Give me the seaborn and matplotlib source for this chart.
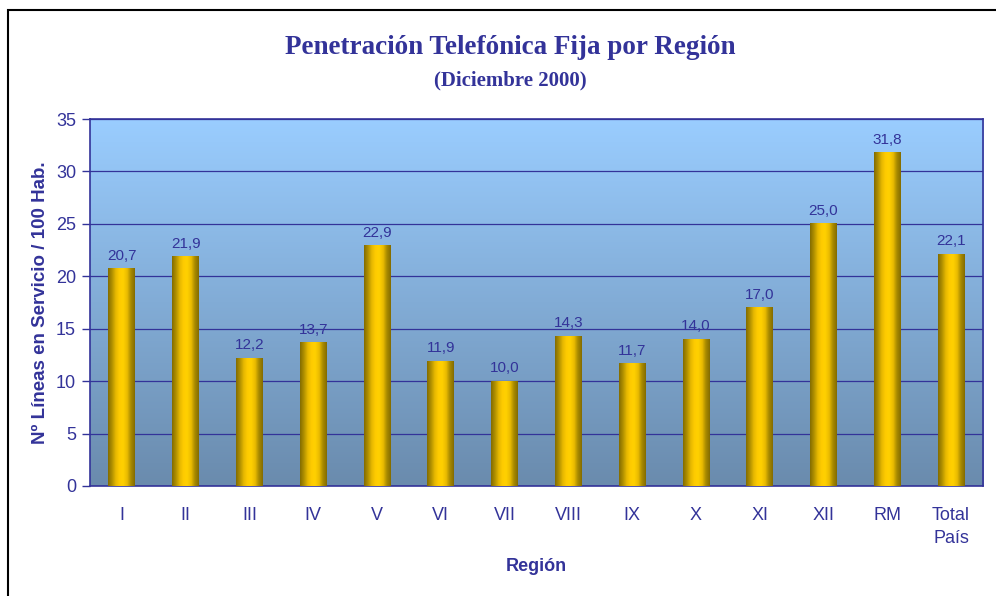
import numpy as np
import pandas as pd
import matplotlib.pyplot as plt
import seaborn as sns
from matplotlib.colors import LinearSegmentedColormap
from matplotlib.patches import Rectangle

regiones = ["I", "II", "III", "IV", "V", "VI", "VII", "VIII", "IX", "X", "XI", "XII", "RM", "Total\nPaís"]
lineas = [20.7, 21.9, 12.2, 13.7, 22.9, 11.9, 10.0, 14.3, 11.7, 14.0, 17.0, 25.0, 31.8, 22.1]

TXT = "#333399"

sns.set_theme(style="white")
plt.rcParams["font.family"] = ["Liberation Sans", "DejaVu Sans"]

df = pd.DataFrame({"region": regiones, "lineas": lineas})

fig = plt.figure(figsize=(9.96, 5.96), dpi=100)
ax = fig.add_axes([90 / 996, 1 - 486 / 596, (983 - 90) / 996, (486 - 119) / 596])

sns.barplot(data=df, x="region", y="lineas", color="#ffcc00", width=0.42, ax=ax, zorder=3)

# background gradient (light blue top -> steel blue bottom)
bg = LinearSegmentedColormap.from_list("bg", ["#6a8bad", "#9acdff"])
ax.imshow(np.linspace(0, 1, 256).reshape(-1, 1)[::-1], cmap=bg, extent=[0, 1, 0, 1],
          transform=ax.transAxes, aspect="auto", zorder=0)

# cylinder-like gold bars
gold = LinearSegmentedColormap.from_list(
    "gold", ["#846c00", "#b09000", "#e6b800", "#ffcc00", "#ffd000", "#eabb00", "#a88a00", "#846c00"])
grad = np.linspace(0, 1, 64).reshape(1, -1)
for p in ax.patches:
    x0, w, h = p.get_x(), p.get_width(), p.get_height()
    p.set_facecolor("none")
    p.set_edgecolor("none")
    ax.imshow(grad, cmap=gold, extent=[x0, x0 + w, 0, h], aspect="auto", zorder=3)
    ax.text(x0 + w / 2, h + 0.55, f"{h:.1f}".replace(".", ","), ha="center", va="bottom",
            fontsize=11, color=TXT, zorder=4)

ax.set_xlim(-0.5, len(regiones) - 0.5)
ax.set_ylim(0, 35)
ax.set_yticks(range(0, 36, 5))
ax.yaxis.grid(True, color=TXT, linewidth=0.9, zorder=1)
ax.set_axisbelow(True)

ax.set_xticks(np.arange(-0.5, len(regiones)), labels=[""] * (len(regiones) + 1))
ax.set_xticks(np.arange(len(regiones)), labels=regiones, minor=True)
for t in ax.get_xticklabels(minor=True):
    t.set_linespacing(1.45)
ax.tick_params(axis="x", which="major", length=6, width=1, color=TXT, direction="out")
ax.tick_params(axis="x", which="minor", length=0, pad=15, labelsize=13, labelcolor=TXT)
ax.tick_params(axis="y", length=6, width=1, color=TXT, direction="out", labelsize=13,
               labelcolor=TXT, left=True, pad=4)

for s in ax.spines.values():
    s.set_color(TXT)
    s.set_linewidth(1.2)

ax.set_xlabel("Región", fontsize=13, fontweight="bold", color=TXT, labelpad=8)
ax.set_ylabel("Nº Líneas en Servicio / 100 Hab.", fontsize=13.5, fontweight="bold", color=TXT, labelpad=5)

fig.text(0.512, 1 - 48 / 596, "Penetración Telefónica Fija por Región", ha="center", va="center",
         fontsize=19.5, fontweight="bold", color=TXT, family="Liberation Serif")
fig.text(0.512, 1 - 80 / 596, "(Diciembre 2000)", ha="center", va="center",
         fontsize=15, fontweight="bold", color=TXT, family="Liberation Serif")

fig.patches.append(Rectangle((7.5 / 996, -0.1), 1.2, 1.1 - 10.5 / 596, transform=fig.transFigure,
                             facecolor="none", edgecolor="black", linewidth=1.5))

fig.savefig("out.png", dpi=100)
